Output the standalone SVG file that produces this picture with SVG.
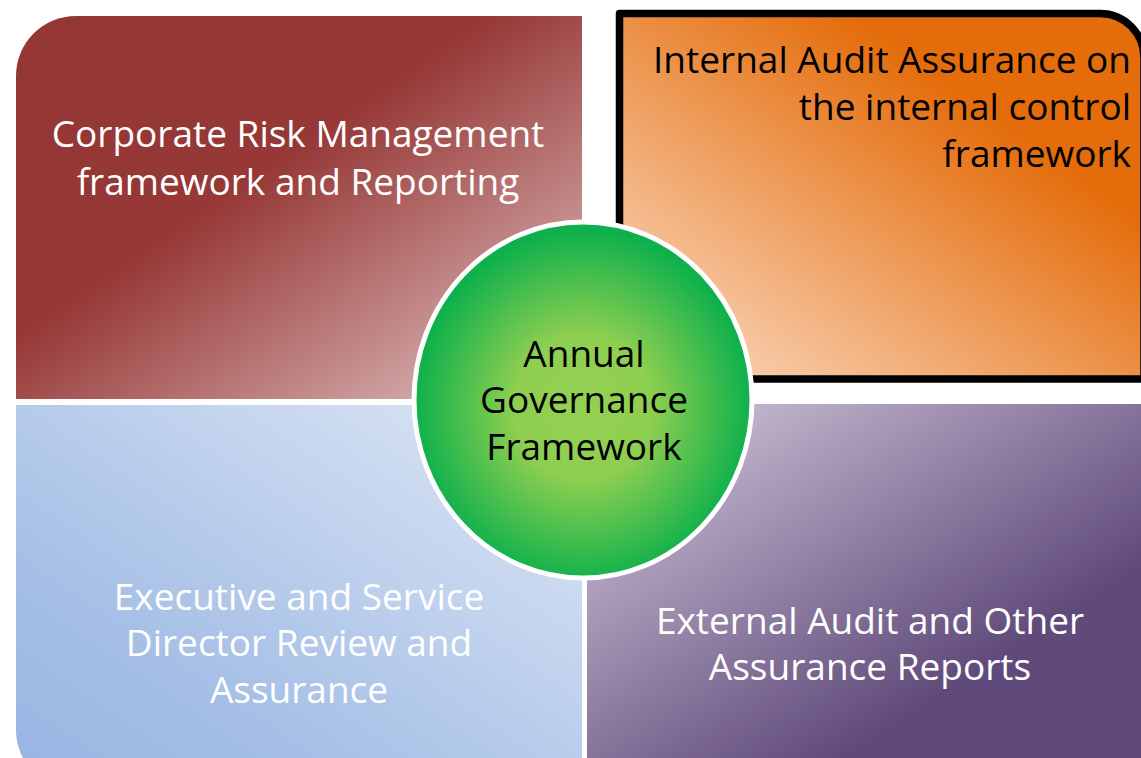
<svg xmlns="http://www.w3.org/2000/svg" width="1141" height="758" viewBox="0 0 1141 758">
<defs>
<linearGradient id="gRed" x1="0" y1="0" x2="1" y2="1">
<stop offset="0" stop-color="#943634"/>
<stop offset="0.42" stop-color="#963836"/>
<stop offset="1" stop-color="#e4caca"/>
</linearGradient>
<linearGradient id="gOrange" x1="0" y1="1" x2="1" y2="0">
<stop offset="0" stop-color="#fce0cc"/>
<stop offset="0.72" stop-color="#e46c0a"/>
<stop offset="1" stop-color="#e46c0a"/>
</linearGradient>
<linearGradient id="gBlue" x1="0" y1="1" x2="1" y2="0">
<stop offset="0" stop-color="#97b4e2"/>
<stop offset="0.3" stop-color="#a5bfe6"/>
<stop offset="1" stop-color="#e0e8f5"/>
</linearGradient>
<linearGradient id="gPurple" x1="0" y1="0" x2="1" y2="1">
<stop offset="0" stop-color="#d8cfdf"/>
<stop offset="0.72" stop-color="#604a7b"/>
<stop offset="1" stop-color="#604a7b"/>
</linearGradient>
<radialGradient id="gGreen" cx="0.5" cy="0.52" r="0.5">
<stop offset="0" stop-color="#92d050"/>
<stop offset="0.4" stop-color="#8fcf50"/>
<stop offset="1" stop-color="#0db04c"/>
</radialGradient>
</defs>
<style>
.lbl{font-family:"Open Sans","Noto Sans","Liberation Sans",sans-serif;font-size:37px}
.w{fill:#ffffff}
.k{fill:#000000}
</style>
<rect width="1141" height="758" fill="#ffffff"/>
<g id="node-risk">
<path d="M16 76 A60 60 0 0 1 76 16 L582 16 L582 399 L16 399 Z" fill="url(#gRed)"/>
<text class="lbl w" text-anchor="middle" x="298" y="147">Corporate Risk Management</text>
<text class="lbl w" text-anchor="middle" x="298" y="195">framework and Reporting</text>
</g>
<g id="node-audit">
<path d="M619.5 13.5 L1100 13.5 A44 44 0 0 1 1144 57.5 L1144 379 L619.5 379 Z" fill="url(#gOrange)" stroke="#000000" stroke-width="7.5" stroke-linejoin="round"/>
<text class="lbl k" text-anchor="end" x="1131" y="73">Internal Audit Assurance on</text>
<text class="lbl k" text-anchor="end" x="1131" y="120">the internal control</text>
<text class="lbl k" text-anchor="end" x="1131" y="167">framework</text>
</g>
<g id="node-exec">
<path d="M16 405 L582 405 L582 790 L76 790 A60 60 0 0 1 16 730 Z" fill="url(#gBlue)"/>
<text class="lbl w" text-anchor="middle" x="299" y="610">Executive and Service</text>
<text class="lbl w" text-anchor="middle" x="299" y="656">Director Review and</text>
<text class="lbl w" text-anchor="middle" x="299" y="703">Assurance</text>
</g>
<g id="node-external">
<rect x="587" y="404" width="560" height="360" fill="url(#gPurple)"/>
<text class="lbl w" text-anchor="middle" x="870" y="634">External Audit and Other</text>
<text class="lbl w" text-anchor="middle" x="870" y="680">Assurance Reports</text>
</g>
<g id="node-agf">
<ellipse cx="583" cy="400" rx="169" ry="178" fill="url(#gGreen)" stroke="#ffffff" stroke-width="5"/>
<text class="lbl k" text-anchor="middle" x="584" y="367">Annual</text>
<text class="lbl k" text-anchor="middle" x="584" y="413">Governance</text>
<text class="lbl k" text-anchor="middle" x="584" y="460">Framework</text>
</g>
<g id="connectors"/>
</svg>
